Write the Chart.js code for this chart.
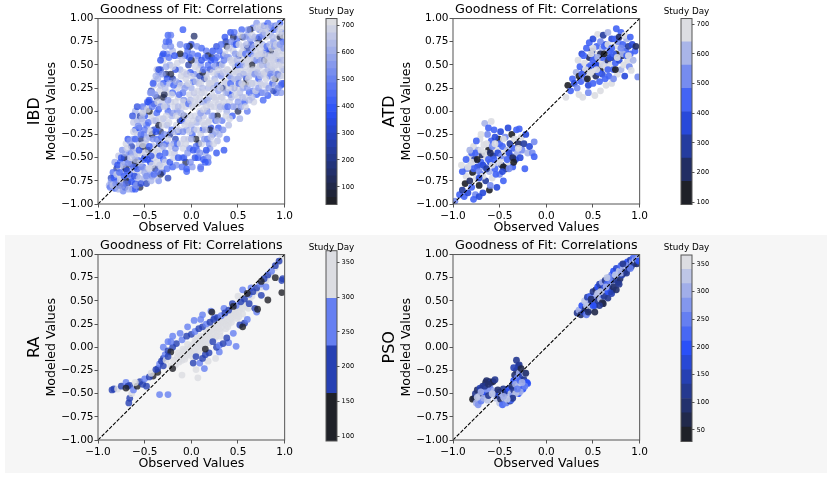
<!DOCTYPE html>
<html>
<head>
<meta charset="utf-8">
<script src="https://cdn.jsdelivr.net/npm/chart.js@4.4.1/dist/chart.umd.min.js"></script>
<style>
  body { margin: 0; width: 831px; height: 479px; background: #fff; position: relative; overflow: hidden; }
  canvas { position: absolute; }
  #lowerBand { position: absolute; left: 5px; top: 235px; width: 822px; height: 238px; background: #f6f6f6; }
</style>
</head>
<body>
<div id="lowerBand"></div>
<canvas id="ibdChart" width="295" height="236" style="left:0;top:0"></canvas>
<canvas id="ibdBar" width="70" height="215" style="left:300px;top:0"></canvas>
<canvas id="atdChart" width="295" height="236" style="left:355px;top:0"></canvas>
<canvas id="atdBar" width="70" height="215" style="left:655px;top:0"></canvas>
<canvas id="raChart" width="295" height="236" style="left:0;top:236px"></canvas>
<canvas id="raBar" width="70" height="215" style="left:300px;top:236px"></canvas>
<canvas id="psoChart" width="295" height="236" style="left:355px;top:236px"></canvas>
<canvas id="psoBar" width="70" height="215" style="left:655px;top:236px"></canvas>
<script>
// Points: [observed, modeled, study day]
const ibdPoints = [
  [-.88,-.8,610],[-.85,-.78,700],[-.82,-.83,420],[-.8,-.76,350],[-.79,-.7,650],[-.77,-.8,180],[-.75,-.66,560],[-.74,-.74,690],
  [-.72,-.6,380],[-.71,-.82,300],[-.7,-.7,620],[-.69,-.52,480],[-.68,-.77,110],[-.67,-.63,700],[-.66,-.45,400],[-.65,-.72,540],
  [-.64,-.57,260],[-.63,-.84,470],[-.62,-.66,660],[-.61,-.48,590],[-.6,-.78,330],[-.6,-.4,700],[-.59,-.6,150],[-.58,-.7,580],
  [-.57,-.53,430],[-.56,-.35,640],[-.55,-.82,90],[-.55,-.64,700],[-.82,-.55,580],[-.8,-.62,240],[-.78,-.48,660],[-.76,-.55,420],
  [-.74,-.42,520],[-.72,-.5,140],[-.7,-.35,690],[-.68,-.3,380],[-.66,-.55,610],[-.64,-.38,300],[-.62,-.3,560],[-.84,-.66,460],
  [-.86,-.72,290],[-.73,-.86,500],[-.7,-.62,60],[-.77,-.6,700],[-.6,-.84,400],
  [-.53,-.45,700],[-.52,-.6,380],[-.51,-.25,520],[-.5,-.72,610],[-.5,-.5,250],[-.49,-.35,660],[-.48,-.15,420],[-.47,-.62,700],
  [-.46,-.42,130],[-.45,-.28,590],[-.44,-.55,360],[-.43,-.05,690],[-.42,-.7,470],[-.41,-.38,640],[-.4,-.2,300],[-.4,-.5,700],
  [-.39,-.62,200],[-.38,-.1,560],[-.37,-.3,410],[-.36,-.45,680],[-.35,-.75,520],[-.35,.02,380],[-.34,-.58,600],[-.33,-.22,150],
  [-.32,-.4,700],[-.31,-.66,330],[-.3,-.08,630],[-.3,-.52,450],[-.54,-.3,170],[-.52,-.12,640],[-.5,-.05,360],[-.48,-.78,280],
  [-.46,-.2,700],[-.44,-.68,550],[-.42,-.25,80],[-.38,-.7,660],[-.36,-.18,490],[-.34,-.35,260],[-.56,-.18,430],[-.58,-.1,610],
  [-.6,-.2,390],[-.62,-.12,650],[-.58,-.25,700],[-.55,-.05,270],
  [-.6,0,600],[-.58,.05,330],[-.52,0,680],[-.52,.05,440],[-.5,.02,590],[-.47,.1,380],[-.46,.12,700],[-.43,.22,260],
  [-.43,.2,520],[-.4,.32,640],[-.4,.08,350],[-.4,.28,690],[-.35,.42,470],[-.37,.15,200],[-.36,.35,600],[-.31,.6,420],
  [-.34,.22,700],[-.33,.45,310],[-.28,.7,560],[-.31,.1,650],[-.3,.3,390],[-.3,.55,700],[-.25,.82,430],[-.27,.4,160],
  [-.26,.62,520],[-.25,.2,680],[-.24,.75,380],[-.23,.5,600],[-.22,.82,470],[-.2,.35,250],[-.2,.65,640],[-.63,-.05,330],
  [-.45,.12,400],[-.37,.45,650],[-.27,.75,450],[-.42,.2,560],[-.29,.18,120],[-.26,.05,560],[-.33,.55,380],[-.52,-.02,700],
  [-.09,.88,400],
  [-.2,-.6,420],[-.18,-.45,660],[-.17,-.3,300],[-.16,-.15,700],[-.15,0,530],[-.14,.15,690],[-.13,.3,380],[-.12,.45,620],
  [-.12,-.1,200],[-.1,-.5,600],[-.1,.05,700],[-.09,.2,470],[-.08,-.3,650],[-.07,.6,410],[-.06,.35,700],[-.05,-.62,390],
  [-.05,-.2,560],[-.04,.1,680],[-.03,.5,250],[-.02,-.4,480],[-.01,-.05,700],[0,.25,600],[0,.72,330],[.01,-.25,420],
  [.02,.05,690],[.03,.4,520],[.03,.81,150],[.04,-.5,330],[.05,.15,700],[.06,-.12,610],[.07,.6,400],[.08,.3,660],
  [.08,-.35,200],[.09,0,700],[.1,-.6,480],[.1,.5,560],[.11,.2,690],[.12,-.2,380],[.13,-.05,650],[.14,.35,270],
  [.15,-.45,600],[.15,.1,700],[.16,.65,480],[.17,-.3,420],[.18,.25,630],[.19,-.1,700],[.2,.45,350],[.2,-.4,560],
  [.21,.05,690],[.22,.58,200],[.23,-.25,500],[.24,.15,700],[.25,.35,620],[.26,-.1,410],[.27,.7,350],[.28,-.32,640],
  [.29,.22,550],[.3,.02,700],[.3,.5,280],
  [-.28,-.55,700],[-.27,-.35,380],[-.26,-.15,620],[-.25,0,450],[-.24,-.45,690],[-.23,-.25,230],[-.22,.1,700],[-.21,-.05,600],
  [-.2,.2,420],[-.19,-.35,560],[-.18,.05,690],[-.17,.45,330],[-.16,-.58,540],[-.15,.25,700],[-.14,-.22,410],[-.13,.6,580],
  [-.11,.38,690],[-.1,-.1,360],[-.09,-.4,700],[-.08,.12,520],[-.07,-.15,690],[-.06,-.55,140],[-.05,.28,600],[-.04,.65,460],
  [-.03,-.3,650],[-.02,.18,700],[-.01,.42,390],[0,-.15,640],[.01,-.6,560],[.02,.32,420],[.04,-.05,700],[.05,.55,620],
  [.06,-.42,520],[.07,.08,690],[.09,.38,300],[.1,-.25,700],[.11,.68,430],[.12,.1,600],[.13,-.52,380],[.14,-.15,700],
  [.16,.4,650],[.17,0,530],[.18,-.55,460],[.19,.3,690],[.21,-.18,330],[.22,.3,700],[.24,-.05,560],[.25,.55,420],
  [.26,.12,690],[.28,.4,610],[.29,-.18,380],
  [-.22,.4,90],[-.12,.62,60],[-.3,.15,100],[0,.55,80],[.05,-.3,70],[.18,.6,110],[-.35,-.15,70],[-.08,-.05,120],
  [.2,-.2,90],[-.45,0,60],[-.6,-.55,70],[-.7,-.75,50],[-.52,-.38,100],[.12,.42,70],[-.02,.7,55],[.28,-.05,80],
  [-.25,-.72,300],[-.33,-.68,130],[-.05,-.65,420],[.1,-.62,480],[.35,-.42,380],[.38,-.3,450],[.18,-.5,520],[.27,-.45,360],
  [.15,-.55,400],
  [.31,.4,620],[.32,.15,700],[.33,-.1,480],[.34,.6,390],[.35,.3,680],[.36,.05,560],[.37,.75,250],[.38,.45,700],
  [.39,.2,420],[.4,-.15,630],[.4,.58,560],[.41,.1,700],[.42,.85,380],[.43,.35,600],[.44,-.05,400],[.45,.65,690],
  [.46,.25,330],[.47,.48,640],[.48,.05,700],[.49,.78,460],[.5,.35,520],[.5,.15,690],[.51,.6,300],[.52,-.08,600],
  [.53,.45,700],[.54,.88,420],[.55,.25,560],[.56,.7,650],[.57,.1,390],[.58,.52,700],[.59,.35,280],[.6,.82,600],
  [.6,0,470],[.61,.6,690],[.62,.2,420],[.63,.45,700],[.64,.72,350],[.65,.3,610],[.66,.9,480],[.67,.1,700],
  [.68,.55,380],[.69,.4,660],[.7,.78,520],[.7,.18,430],
  [.32,.5,410],[.34,.25,200],[.36,.62,700],[.38,0,600],[.4,.4,650],[.42,.18,380],[.44,.52,700],[.46,.72,560],
  [.48,.3,690],[.5,.5,420],[.52,.2,640],[.54,.62,700],[.56,.4,480],[.58,.15,690],[.6,.68,260],[.62,.38,630],
  [.64,.55,700],[.66,.22,500],[.68,.7,640],[.7,.45,700],[.45,.8,130],[.55,.8,90],[.63,.88,70],[.5,0,120],
  [.65,.5,80],[.38,.7,100],[.58,.3,60],
  [.71,.6,690],[.72,.35,400],[.73,.88,560],[.74,.5,700],[.75,.2,480],[.76,.72,620],[.77,.4,700],[.78,.92,380],
  [.79,.6,300],[.8,.28,650],[.8,.8,700],[.81,.5,560],[.82,.95,450],[.83,.68,690],[.84,.38,420],[.85,.85,600],
  [.86,.55,700],[.87,.3,360],[.88,.75,540],[.89,.45,690],[.9,.92,400],[.9,.62,650],[.91,.2,480],[.92,.8,700],
  [.93,.4,300],[.94,.7,610],[.95,.95,420],[.95,.55,690],[.96,.28,380],[.97,.85,520],[.98,.65,700],[.99,.45,450],
  [.99,.3,350],[.72,.78,100],[.78,.55,70],[.85,.65,90],[.9,.35,60],[.95,.8,110],[.82,.17,400],[.75,.62,700],
  [.88,.6,650],[.93,.55,520],[.97,.5,680],[.7,.95,560],[.84,.9,480],[.76,.85,700],[.86,.45,610],[.92,.68,700],
  [.98,.75,430],[.74,.3,650],[.8,.42,690],[.96,.2,560],[.88,.22,300],[.8,.65,380],[.77,.12,420],
  [-.87,-.82,480],[-.86,-.76,560],[-.84,-.8,650],[-.83,-.72,400],[-.81,-.78,520],[-.8,-.68,700],[-.79,-.58,380],[-.78,-.84,600],
  [-.77,-.66,450],[-.76,-.74,680],[-.75,-.5,360],[-.74,-.8,560],[-.73,-.58,640],[-.72,-.7,420],[-.71,-.45,590],[-.7,-.78,480],
  [-.69,-.64,370],[-.69,-.4,700],[-.68,-.56,520],[-.67,-.84,610],[-.66,-.68,440],[-.66,-.32,560],[-.65,-.5,700],[-.64,-.76,390],
  [-.63,-.44,600],[-.62,-.6,470],[-.62,-.22,680],[-.61,-.7,350],[-.6,-.52,640],[-.6,-.3,420],[-.59,-.8,560],[-.58,-.46,700],
  [-.58,-.62,410],[-.57,-.16,520],[-.56,-.72,630],[-.56,-.42,380],[-.55,-.56,690],[-.54,-.25,450],[-.54,-.78,330],[-.53,-.6,560],
  [-.53,-.08,640],[-.52,-.36,700],[-.51,-.52,410],[-.5,-.66,590],[-.5,-.2,480],[-.49,-.45,700],[-.46,.1,380],[-.48,-.7,520],
  [-.48,-.3,640],[-.47,-.52,360],[-.47,.02,690],[-.46,-.12,450],[-.45,-.62,700],[-.45,-.38,400],[-.44,.2,560],[-.44,-.22,680],
  [-.43,-.48,330],[-.43,-.75,610],[-.42,.05,470],[-.42,-.58,700],[-.41,-.3,540],[-.41,.3,390],[-.4,-.1,650],[-.4,-.68,440],
  [-.39,-.42,700],[-.39,.18,560],[-.38,-.22,380],[-.38,.38,620],[-.37,-.55,690],[-.37,-.02,420],[-.36,.1,700],[-.36,-.65,470],
  [-.35,-.32,580],[-.35,.45,350],[-.34,-.08,690],[-.34,-.48,400],[-.33,.28,640],[-.33,.05,520],[-.32,-.6,700],[-.32,-.28,450],
  [-.31,.4,560],[-.31,-.15,700],[-.3,.62,380],[-.3,-.38,620],
  [-.29,.05,700],[-.29,-.25,520],[-.28,.25,640],[-.28,-.45,420],[-.27,.48,590],[-.27,-.05,700],[-.26,-.62,460],[-.26,.35,380],
  [-.25,-.3,690],[-.25,.12,560],[-.24,.58,450],[-.24,-.12,700],[-.23,.3,620],[-.23,-.55,380],[-.22,-.38,650],[-.22,.7,520],
  [-.21,.18,700],[-.21,-.2,440],[-.2,.48,690],[-.2,-.02,560],[-.19,-.5,700],[-.19,.28,410],[-.18,-.22,640],[-.18,.6,380],
  [-.17,.1,700],[-.17,-.4,520],[-.16,.32,600],[-.16,-.05,690],[-.15,-.35,460],[-.15,.52,700],[-.14,-.5,380],[-.14,.05,640],
  [-.13,-.2,700],[-.13,.18,450],[-.12,.72,520],[-.12,-.35,690],[-.11,-.02,600],[-.11,.28,700],[-.1,-.6,440],[-.1,.55,650],
  [-.09,.1,690],[-.09,-.22,520],[-.08,.42,700],[-.08,-.5,380],[-.07,-.05,640],[-.07,.25,560],[-.06,-.35,700],[-.06,.05,690],
  [-.05,.7,420],[-.05,.4,650],[-.04,-.12,700],[-.04,-.45,560],[-.03,.3,690],[-.03,.08,450],[-.02,-.22,700],[-.02,.58,380],
  [-.01,.12,640],[-.01,-.55,520],[0,.38,700],[0,-.3,600],[.01,.05,690],[.01,.62,470],[.02,-.1,700],[.02,-.42,380],
  [.03,.2,650],[.03,-.2,560],[.04,.48,700],[.04,.1,690],[.05,-.38,460],[.05,.32,640],[.06,-.2,700],[.06,.7,520],
  [.07,.22,690],[.07,-.5,400],[.08,.45,700],[.08,-.08,600],[.09,.15,690],[.09,-.45,520],[.1,.3,700],[.1,-.02,560],
  [.11,-.35,690],[.11,.55,380],[.12,.25,640],[.12,-.12,700],[.13,.45,460],[.13,.02,690],[.14,-.3,560],[.14,.2,700],
  [.15,.58,420],[.15,-.2,640],[.16,.05,700],[.16,-.42,380],[.17,.35,690],[.17,.12,560],[.18,-.12,700],[.18,.5,450],
  [.19,.15,640],[.19,-.35,520],[.2,.3,700],[.2,.08,690],[.21,.55,400],[.21,-.28,650],[.22,.18,700],[.22,-.05,560],
  [.23,.42,690],[.23,.65,380],[.24,-.35,700],[.24,.25,640],[.25,.05,700],[.25,.48,520],[.26,-.22,600],[.26,.32,690],
  [.27,.15,700],[.27,.58,450],[.28,-.1,640],[.28,.28,560],[.29,.45,700],[.29,.08,690],[.3,.65,420],[.3,-.25,600],
  [.31,.25,700],[.31,.05,640],[.32,.38,560],[.32,.72,450],[.33,.15,690],[.33,.5,700],[.34,-.2,520],[.34,.42,650],
  [.35,.1,700],[.35,.55,480],[.36,.32,690],[.36,.8,380],[.37,.2,640],[.37,-.05,700],[.38,.58,560],[.38,.3,690],
  [.39,.45,700],[.39,.05,450],[.4,.68,650],[.4,.25,700],[.41,.38,560],[.41,-.08,690],[.42,.55,700],[.42,.3,420],
  [.43,.15,640],[.43,.75,520],[.44,.42,700],[.44,.25,690],[.45,.05,560],[.45,.55,700],[.46,.35,640],[.46,.85,460],
  [.47,.18,700],[.47,.62,560],[.48,.42,690],[.48,.72,380],[.49,.25,700],[.49,.55,640],[.5,.1,560],[.5,.42,700],
  [.51,.72,690],[.51,.3,450],[.52,.62,700],[.52,.38,640],[.53,.05,560],[.53,.82,700],[.54,.3,690],[.54,.5,520],
  [.55,.65,700],[.55,.15,640],[.56,.55,690],[.56,.28,700],[.57,.8,560],[.57,.42,700],[.58,.62,450],[.58,.05,690],
  [.59,.48,700],[.59,.72,640],[.6,.25,560],[.6,.55,700],[.61,.35,690],[.61,.88,520],[.62,.6,700],[.62,.12,640],
  [.63,.78,560],[.63,.3,700],[.64,.42,690],[.64,.62,450],[.65,.82,700],[.65,.15,640],[.66,.45,700],[.66,.68,560],
  [.67,.3,690],[.67,.58,700],[.68,.8,640],[.68,.4,520],[.69,.22,700],[.69,.65,690],[.7,.55,560],[.7,.9,700],
  [.71,.42,640],[.71,.72,700],[.72,.25,560],[.72,.6,690],[.73,.48,700],[.73,.8,450],[.74,.38,640],[.74,.66,700],
  [.75,.55,560],[.75,.92,690],[.76,.28,700],[.76,.5,640],[.77,.62,700],[.77,.82,520],[.78,.42,690],[.78,.7,700],
  [.79,.2,560],[.79,.85,640],[.8,.55,700],[.8,.35,690],[.81,.7,450],[.81,.9,700],[.82,.45,640],[.82,.6,700],
  [.83,.25,560],[.83,.82,690],[.84,.5,700],[.84,.72,640],[.85,.4,520],[.85,.58,700],[.86,.68,690],[.86,.92,560],
  [.87,.48,700],[.87,.8,640],[.88,.35,690],[.88,.55,700],[.89,.7,560],[.89,.88,450],[.9,.5,700],[.9,.28,640],
  [.91,.72,690],[.91,.6,700],[.92,.4,560],[.92,.92,640],[.93,.65,700],[.93,.25,520],[.94,.5,690],[.94,.85,700],
  [.95,.38,640],[.95,.72,560],[.96,.6,700],[.96,.9,690],[.97,.45,700],[.97,.3,450],[.98,.55,640],[.98,.82,700],
  [.99,.68,560],[.99,.38,690]
];

const atdPoints = [
  [-.98,-.97,500],[-.93,-.9,420],[-.9,-.85,300],[-.88,-.92,470],[-.87,-.78,130],[-.86,-.7,700],[-.85,-.62,560],[-.84,-.88,380],
  [-.83,-.5,700],[-.82,-.75,200],[-.81,-.58,600],[-.8,-.45,470],[-.8,-.82,450],[-.79,-.66,120],[-.78,-.38,700],[-.77,-.52,300],
  [-.76,-.9,520],[-.75,-.72,700],[-.74,-.6,380],[-.73,-.42,600],[-.72,-.8,130],[-.71,-.3,700],[-.7,-.55,450],[-.7,-.68,470],
  [-.69,-.47,220],[-.68,-.88,380],[-.67,-.36,700],[-.66,-.13,600],[-.66,-.6,520],[-.65,-.75,300],[-.64,-.5,700],[-.63,-.25,560],
  [-.62,-.42,140],[-.61,-.85,150],[-.61,-.65,600],[-.6,-.55,380],[-.59,-.11,700],[-.59,-.32,450],[-.58,-.72,700],[-.57,-.48,260],
  [-.56,-.2,470],[-.55,-.62,420],[-.54,-.4,700],[-.53,-.82,360],[-.52,-.55,600],[-.51,-.3,130],[-.5,-.68,520],[-.5,-.45,700],
  [-.49,-.22,380],[-.48,-.58,300],[-.47,-.38,470],[-.46,-.75,450],[-.45,-.5,700],[-.44,-.28,560],[-.43,-.62,220],[-.42,-.42,620],
  [-.41,-.18,400],[-.4,-.55,700],[-.39,-.35,300],[-.38,-.48,520],[-.37,-.25,130],[-.36,-.6,470],[-.35,-.4,420],[-.34,-.3,700],
  [-.33,-.52,380],[-.32,-.2,450],[-.31,-.45,600],[-.3,-.35,220],[-.29,-.19,450],[-.28,-.5,380],[-.27,-.28,700],[-.26,-.42,520],
  [-.24,-.35,300],[-.23,-.62,450],[-.22,-.25,380],[-.2,-.45,600],[-.18,-.38,400],[-.15,-.45,520],[-.13,-.33,500],[-.13,-.49,450],
  [-.8,-.55,700],[-.78,-.62,450],[-.76,-.45,470],[-.74,-.52,120],[-.72,-.65,560],[-.7,-.42,700],[-.68,-.58,380],[-.66,-.45,700],
  [-.64,-.62,300],[-.62,-.52,470],[-.6,-.45,200],[-.58,-.58,700],[-.56,-.52,450],[-.54,-.68,470],[-.52,-.45,380],[-.5,-.55,700],
  [-.48,-.48,560],[-.46,-.6,120],[-.44,-.45,700],[-.42,-.52,450],[-.68,-.7,700],[-.72,-.72,380],[-.6,-.8,560],[-.64,-.35,700],
  [-.58,-.38,520],[-.55,-.28,380],[-.5,-.35,470],[-.46,-.3,700],[-.4,-.45,380],[-.36,-.5,220],[-.84,-.6,700],[-.9,-.65,470],
  [-.91,-.58,700],[-.86,-.52,450],[-.82,-.42,600],[-.75,-.32,470],[-.7,-.25,700],[-.62,-.18,470],[-.55,-.35,700],[-.47,-.65,380],
  [-.4,-.62,520],[-.35,-.55,130],[-.3,-.4,700],[-.78,-.95,450],[-.72,-.92,380],
  [.21,.15,700],[.23,.28,150],[.26,.22,470],[.28,.35,450],[.3,.3,380],[.32,.42,600],[.33,.25,520],[.34,.55,700],
  [.35,.38,130],[.36,.48,450],[.37,.32,470],[.38,.62,380],[.39,.15,700],[.4,.42,300],[.41,.52,700],[.42,.35,520],
  [.43,.68,450],[.44,.45,470],[.45,.28,380],[.46,.74,450],[.46,.58,220],[.47,.4,700],[.48,.5,560],[.49,.65,300],
  [.5,.3,470],[.5,.78,380],[.51,.45,700],[.52,.17,700],[.52,.58,450],[.53,.38,220],[.54,.7,470],[.55,.83,700],
  [.55,.5,380],[.56,.62,700],[.57,.32,450],[.58,.45,120],[.58,.75,520],[.59,.55,700],[.6,.4,380],[.6,.68,600],
  [.61,.82,300],[.62,.5,470],[.63,.35,450],[.63,.6,700],[.64,.72,380],[.65,.45,700],[.66,.55,220],[.66,.85,600],
  [.67,.38,470],[.68,.65,450],[.69,.5,700],[.7,.78,380],[.7,.3,700],[.71,.58,300],[.72,.45,470],[.73,.7,700],
  [.74,.52,450],[.75,.89,450],[.75,.62,130],[.76,.4,700],[.77,.75,520],[.78,.55,380],[.79,.68,700],[.8,.45,600],
  [.8,.85,450],[.81,.6,220],[.82,.72,470],[.83,.5,700],[.84,.38,380],[.85,.65,450],[.86,.78,600],[.87,.55,700],
  [.88,.7,300],[.89,.48,520],[.9,.62,470],[.91,.44,700],[.92,.72,380],[.93,.55,600],[.95,.65,450],[.98,.37,520],
  [.96,.7,220],
  [.4,.6,450],[.44,.35,120],[.48,.62,700],[.52,.5,380],[.56,.42,470],[.6,.58,450],[.64,.48,700],[.68,.58,380],
  [.72,.62,470],[.76,.58,700],[.62,.7,450],[.58,.62,220],[.54,.45,700],[.5,.55,450],[.46,.48,470],[.42,.45,700],
  [.38,.4,450],[.66,.72,700],[.7,.68,450],[.74,.78,470],[.78,.8,220],[.82,.62,600],[.86,.6,450],[.84,.82,700],
  [.72,.35,560],[.64,.28,700],[.58,.22,700],[.45,.2,560],[.35,.18,650],[.66,.45,450],[.74,.45,130],[.6,.5,700],
  [.55,.58,600],[.48,.42,700],[.8,.68,520],[.88,.6,700],[.9,.8,450],[.62,.62,130],[.5,.68,700]
];

const raPoints = [
  [-.25,.06,270],[-.2,.12,275],[-.04,.22,270],[.03,.29,275],[.1,.3,270],[.21,.39,275],[.55,.62,270],[.64,.64,275],
  [.05,-.24,330],[.07,-.33,340],[.14,-.23,270],[.3,-.05,275],[.48,.01,270],[-.34,-.51,275],[-.25,-.51,270],[-.12,.15,275],
  [.18,-.15,340],[.26,-.12,330],[.4,.05,270],[-.1,-.3,330],[.35,.42,270],[.12,.35,275],[-.3,0,270],[.25,.32,275],
  [.5,.55,330],
  [-.22,-.2,340],[-.19,-.14,350],[-.17,-.19,320],[-.15,-.1,360],[-.13,-.16,330],[-.11,-.08,350],[-.1,-.14,310],[-.08,-.04,340],
  [-.06,-.1,360],[-.05,-.02,320],[-.03,-.08,350],[-.01,0,340],[0,-.06,360],[.02,.03,330],[.03,-.03,350],[.05,.05,310],
  [.06,0,360],[.08,.08,340],[.09,.02,320],[.11,.1,350],[.12,.05,360],[.14,.12,330],[.15,.07,340],[.17,.15,350],
  [.18,.1,310],[.2,.17,360],[.21,.12,340],[.23,.2,320],[.24,.15,350],[.26,.22,360],[.27,.17,330],[.29,.25,340],
  [.3,.2,350],[.32,.27,310],[.33,.22,360],[.35,.3,340],[.36,.25,320],[.38,.33,350],[.39,.28,360],[.41,.35,330],
  [.42,.3,340],[.44,.38,350],[.45,.33,310],[.47,.4,360],[.48,.36,340],[.5,.43,320],[.51,.38,350],[.53,.46,360],
  [.55,.42,330],[.57,.48,340],[.59,.44,350],[.62,.5,320],[.65,.55,360],[.7,.6,340],[.75,.65,350],[.8,.72,330],
  [.85,.78,360],[.9,.86,340],[.95,.93,320],[.98,.98,350],
  [-.12,-.12,340],[-.02,-.04,350],[.07,.04,330],[.16,.11,360],[.25,.19,340],[.34,.26,350],[.43,.34,320],[.52,.41,360],
  [.6,.47,340],[0,.01,330],[.1,.07,350],[.19,.14,340],[.28,.21,360],[.37,.29,330],[.46,.37,350],[.13,.02,320],
  [.22,.09,350],[.31,.17,340],[.4,.25,360],[.04,-.07,350],
  [-.14,-.06,350],[-.07,-.13,340],[-.04,.03,360],[.01,-.1,330],[.04,.07,350],[.07,-.05,360],[.1,.12,340],[.13,-.02,350],
  [.16,.17,330],[.19,.05,360],[.22,.22,350],[.25,.1,340],[.28,.27,360],[.31,.12,330],[.34,.32,350],[.37,.2,340],
  [.4,.37,360],[.43,.27,350],[.46,.42,330],[.49,.31,360],[.52,.46,340],[.55,.36,350],[.58,.5,360],[.61,.42,330],
  [-.09,-.02,350],[.06,.1,340],[.18,.19,360],[.3,.29,350],[.42,.4,340],[.54,.52,360],[.15,.03,330],[.27,.12,350],
  [.39,.22,360],[.51,.33,340],
  [-.16,.04,200],[-.1,.08,260],[-.05,.12,190],[0,.14,210],[.04,.17,270],[.08,.2,195],[.12,.22,200],[.16,.25,260],
  [.2,.27,190],[.24,.3,210],[.28,.32,200],[.32,.34,270],[.36,.37,190],[.4,.4,200],[.44,.47,200],[.48,.45,260],
  [.53,.49,190],[.57,.52,200],[.62,.57,265],[.66,.6,190],[.7,.64,200],[.74,.68,260],[.78,.74,190],[.82,.78,200],
  [.86,.82,260],[.9,.88,190],[.94,.93,200],[-.3,-.12,200],[-.28,-.08,260],[-.25,-.04,190],[-.2,0,200],[-.22,.06,260],
  [.02,-.17,200],[.05,-.1,190],[.09,-.17,260],[.12,-.12,200],[.15,-.08,190],[.19,-.06,200],[.23,.06,190],[.27,0,200],
  [.3,.02,260],[.34,.04,190],[.38,.1,200],[.45,.15,260],[.52,.24,190],[.57,.26,200],[.6,.3,260],[.62,.47,190],
  [.75,.56,200],[.8,.65,260],[.98,.74,190],[.97,.72,200],[.68,.42,190],[.7,.38,260],
  [-.22,-.05,120],[-.2,-.23,110],[-.41,-.31,120],[-.36,-.27,110],[.75,.71,120],[.82,.51,110],[.71,.41,120],[.97,.59,110],
  [.15,-.02,120],[.45,.44,110],[.55,.22,120],[.22,.38,130],[.6,.58,120],[.9,.75,130],
  [-.85,-.46,200],[-.83,-.45,190],[-.79,-.45,340],[-.75,-.42,200],[-.7,-.38,260],[-.68,-.42,190],[-.66,-.41,200],[-.66,-.55,200],
  [-.67,-.6,190],[-.64,-.5,340],[-.62,-.46,260],[-.58,-.42,120],[-.55,-.37,200],[-.52,-.4,190],[-.5,-.34,260],[-.48,-.42,200],
  [-.45,-.32,190],[-.43,-.28,340],[-.38,-.24,200],[-.36,-.23,190],[-.34,-.18,260],[-.32,-.15,200],[-.3,-.2,190],[-.27,-.14,340],
  [-.25,-.1,200],[-.6,-.38,340],[-.7,-.44,120]
];

const psoPoints = [
  [.33,.37,120],[.35,.4,300],[.37,.35,90],[.38,.45,200],[.4,.38,140],[.41,.5,320],[.42,.42,100],[.43,.35,260],
  [.44,.54,150],[.45,.46,300],[.46,.4,80],[.47,.55,230],[.48,.48,130],[.49,.42,340],[.5,.6,110],[.51,.52,280],
  [.52,.45,160],[.53,.62,90],[.54,.55,310],[.55,.65,200],[.55,.5,120],[.56,.58,260],[.57,.68,140],[.58,.52,330],
  [.59,.62,100],[.6,.56,240],[.6,.7,300],[.61,.47,80],[.62,.64,180],[.63,.72,120],[.64,.58,320],[.65,.68,220],
  [.66,.53,110],[.67,.75,280],[.68,.66,150],[.69,.6,100],[.7,.78,260],[.7,.7,340],[.71,.62,90],[.72,.82,200],
  [.73,.72,130],[.74,.66,300],[.75,.85,160],[.76,.76,250],[.77,.7,110],[.78,.82,320],[.79,.74,100],[.8,.88,230],
  [.81,.78,140],[.82,.84,300],[.83,.8,90],[.84,.9,260],[.85,.82,120],[.86,.86,340],[.87,.92,200],[.88,.85,110],
  [.89,.89,280],[.9,.94,150],[.91,.87,90],[.92,.92,300],[.93,.96,230],[.94,.9,120],[.95,.94,320],[.96,.96,260],
  [.97,.9,100],[.98,.95,300],[.99,.93,210],
  [.45,.38,100],[.52,.38,80],[.6,.48,60],[.57,.45,130],[.62,.55,110],[.66,.6,200],[.72,.65,100],[.78,.68,130],
  [.58,.6,320],[.64,.65,300],[.68,.72,250],[.74,.78,320],[.5,.45,200],[.43,.45,330],[.8,.8,300],[.86,.8,110],
  [.9,.85,250],[.7,.58,140],[.75,.62,90],[.55,.58,340],[.48,.52,90],[.65,.75,330],[.82,.9,120],
  [-.79,-.56,50],[-.77,-.55,80],[-.76,-.5,120],[-.75,-.6,300],[-.74,-.46,100],[-.73,-.62,280],[-.72,-.53,330],[-.71,-.44,140],
  [-.7,-.58,260],[-.69,-.5,90],[-.68,-.42,110],[-.67,-.55,300],[-.66,-.48,200],[-.65,-.38,60],[-.64,-.36,100],[-.63,-.57,320],
  [-.62,-.52,130],[-.61,-.37,90],[-.6,-.45,250],[-.59,-.38,110],[-.57,-.37,80],[-.56,-.47,300],[-.55,-.35,120],[-.55,-.5,260],
  [-.54,-.55,330],[-.52,-.52,140],[-.5,-.6,330],[-.5,-.48,200],[-.49,-.56,100],[-.48,-.5,300],[-.47,-.62,230],[-.46,-.45,130],
  [-.45,-.55,320],[-.44,-.5,80],[-.43,-.6,260],[-.42,-.48,150],[-.41,-.54,300],[-.4,-.45,200],[-.39,-.58,110],[-.38,-.5,330],
  [-.38,-.57,220],[-.37,-.42,90],[-.36,-.52,280],[-.35,-.46,130],[-.35,-.36,200],[-.34,-.3,100],[-.33,-.4,300],[-.32,-.14,120],
  [-.32,-.25,90],[-.31,-.33,260],[-.3,-.2,140],[-.3,-.5,200],[-.29,-.19,110],[-.29,-.28,300],[-.28,-.36,230],[-.27,-.23,80],
  [-.27,-.42,320],[-.26,-.3,150],[-.25,-.45,200],[-.24,-.35,120],[-.23,-.28,330],[-.22,-.28,100],[-.21,-.38,210],[-.2,-.39,200],
  [-.23,-.42,250],[-.28,-.48,300],[-.33,-.5,330],[-.36,-.55,120],[-.42,-.56,320],[-.46,-.53,300],[-.52,-.46,100],[-.58,-.5,330],
  [-.64,-.45,280],[-.7,-.48,300],[-.74,-.54,330],[-.66,-.42,120],[-.62,-.4,90],[-.31,-.45,250],[-.26,-.38,300],[-.35,-.22,140]
];

// Colour bar ranges (study day), number of discrete bands and tick labels
const ibdDayRange = [34, 727], ibdDayBands = 26, ibdDayTicks = [100, 200, 300, 400, 500, 600, 700];
const atdDayRange = [92, 719], atdDayBands = 8, atdDayTicks = [100, 200, 300, 400, 500, 600, 700];
const raDayRange = [93, 367], raDayBands = 4, raDayTicks = [100, 150, 200, 250, 300, 350];
const psoDayRange = [29, 366], psoDayBands = 13, psoDayTicks = [50, 100, 150, 200, 250, 300, 350];

const diagonal = [{x: -1, y: -1}, {x: 1, y: 1}];
const chartTitle = 'Goodness of Fit: Correlations';

Chart.defaults.font.family = "'DejaVu Sans', sans-serif";
Chart.defaults.color = '#000';

// dark -> blue -> light grey colour map
const cmapStops = [[31, 33, 40], [42, 80, 248], [220, 221, 226]];
function cmap(t) {
    const seg = t < 0.5 ? 0 : 1;
    const f = t < 0.5 ? t / 0.5 : (t - 0.5) / 0.5;
    const a = cmapStops[seg], b = cmapStops[seg + 1];
    return a.map((v, i) => Math.round(v + (b[i] - v) * f));
}
function bandColor(k, bands, alpha) {
    const c = cmap(bands > 1 ? k / (bands - 1) : 0);
    return 'rgba(' + c[0] + ',' + c[1] + ',' + c[2] + ',' + alpha + ')';
}
function dayColor(day, range, bands, alpha) {
    let k = Math.floor((day - range[0]) / (range[1] - range[0]) * bands);
    k = Math.max(0, Math.min(bands - 1, k));
    return bandColor(k, bands, alpha);
}
const fmt = (v, d) => (Math.abs(v) < 1e-9 ? 0 : v).toFixed(d).replace('-', '\u2212');

const framePlugin = {
    id: 'frame',
    afterDraw(chart) {
        const {ctx, chartArea: a} = chart;
        ctx.save();
        ctx.strokeStyle = '#555';
        ctx.lineWidth = 1;
        ctx.strokeRect(a.left, a.top, a.right - a.left, a.bottom - a.top);
        ctx.restore();
    }
};

const barTitlePlugin = {
    id: 'barTitle',
    afterDraw(chart, args, opts) {
        const {ctx, chartArea: a} = chart;
        ctx.save();
        ctx.font = "8.8px 'DejaVu Sans'";
        ctx.fillStyle = '#000';
        ctx.textAlign = 'center';
        ctx.textBaseline = 'middle';
        ctx.fillText(opts.text, (a.left + a.right) / 2, opts.y);
        ctx.restore();
    }
};

function scatterPanel(id, group, points, range, bands, alpha) {
    const colors = points.map(p => dayColor(p[2], range, bands, alpha));
    new Chart(document.getElementById(id), {
        type: 'scatter',
        data: {
            datasets: [
                {
                    type: 'line',
                    data: diagonal,
                    borderColor: '#000',
                    borderWidth: 1.1,
                    borderDash: [3.7, 1.6],
                    pointRadius: 0,
                    clip: 0,
                    order: 0
                },
                {
                    data: points.map(p => ({x: p[0], y: p[1]})),
                    pointBackgroundColor: colors,
                    backgroundColor: colors,
                    pointBorderWidth: 0,
                    pointRadius: 3.4,
                    clip: 0,
                    order: 1
                }
            ]
        },
        options: {
            responsive: false,
            animation: false,
            events: [],
            layout: { padding: { left: 0, right: 10, top: 0, bottom: 0 } },
            plugins: {
                legend: { display: false },
                tooltip: { enabled: false },
                title: {
                    display: true, text: chartTitle, fullSize: false,
                    font: { size: 12.7, weight: 'normal' }, color: '#000',
                    padding: { top: 2.4, bottom: 0.9 }
                },
                subtitle: {
                    display: true, text: group, position: 'left', fullSize: false,
                    font: { size: 16, weight: 'normal' }, color: '#000',
                    padding: { top: 25.4, bottom: 0 }
                }
            },
            scales: {
                x: {
                    type: 'linear', min: -1, max: 1,
                    ticks: { stepSize: 0.5, autoSkip: false, maxRotation: 0, padding: 2, font: { size: 10.5 }, color: '#000', callback: v => fmt(v, 1) },
                    grid: { drawOnChartArea: false, drawTicks: true, tickLength: 3.5, color: '#555' },
                    border: { display: false },
                    title: { display: true, text: 'Observed Values', font: { size: 12.6 }, color: '#000', padding: { top: 0, bottom: 1 } },
                    afterFit: s => { s.height = 32; }
                },
                y: {
                    type: 'linear', min: -1, max: 1,
                    ticks: { stepSize: 0.25, autoSkip: false, padding: 1, font: { size: 10.5 }, color: '#000', callback: v => fmt(v, 2) },
                    grid: { drawOnChartArea: false, drawTicks: true, tickLength: 3.5, color: '#555' },
                    border: { display: false },
                    title: { display: true, text: 'Modeled Values', font: { size: 12.6 }, color: '#000', padding: { top: 0, bottom: 0 } },
                    afterFit: s => { s.width = 53.4; }
                }
            }
        },
        plugins: [framePlugin]
    });
}

function colorBar(id, range, bands, tickValues, top, bottom, titleY) {
    const span = (range[1] - range[0]) / bands;
    const datasets = [];
    for (let k = 0; k < bands; k++) {
        datasets.push({
            data: [[range[0] + k * span, range[0] + (k + 1) * span]],
            backgroundColor: bandColor(k, bands, 1),
            borderWidth: 0,
            barPercentage: 1,
            categoryPercentage: 1
        });
    }
    new Chart(document.getElementById(id), {
        type: 'bar',
        data: { labels: ['Study Day'], datasets },
        options: {
            responsive: false,
            animation: false,
            events: [],
            layout: { padding: { left: 26, right: 0, top: top, bottom: bottom } },
            plugins: {
                legend: { display: false },
                tooltip: { enabled: false },
                barTitle: { text: 'Study Day', y: titleY }
            },
            scales: {
                x: { display: false, stacked: true },
                y: {
                    position: 'right', min: range[0], max: range[1],
                    ticks: { autoSkip: false, padding: 2, font: { size: 6.6 }, color: '#000', callback: v => String(v) },
                    grid: { drawOnChartArea: false, drawTicks: true, tickLength: 2.5, color: '#555' },
                    border: { display: false },
                    afterBuildTicks: s => { s.ticks = tickValues.map(v => ({ value: v })); },
                    afterFit: s => { s.width = 33; }
                }
            }
        },
        plugins: [framePlugin, barTitlePlugin]
    });
}

scatterPanel('ibdChart', 'IBD', ibdPoints, ibdDayRange, ibdDayBands, 0.75);
scatterPanel('atdChart', 'ATD', atdPoints, atdDayRange, atdDayBands, 0.9);
scatterPanel('raChart', 'RA', raPoints, raDayRange, raDayBands, 0.8);
scatterPanel('psoChart', 'PSO', psoPoints, psoDayRange, psoDayBands, 0.9);

colorBar('ibdBar', ibdDayRange, ibdDayBands, ibdDayTicks, 18.5, 10.5, 11.7);
colorBar('atdBar', atdDayRange, atdDayBands, atdDayTicks, 18.5, 10.5, 11.7);
colorBar('raBar', raDayRange, raDayBands, raDayTicks, 14.7, 10, 12);
colorBar('psoBar', psoDayRange, psoDayBands, psoDayTicks, 19, 9.5, 12);
</script>
</body>
</html>
